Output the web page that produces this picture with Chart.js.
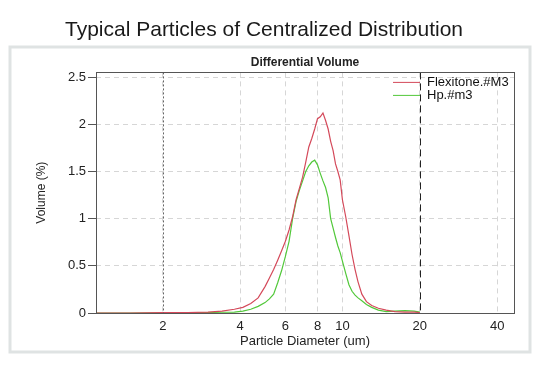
<!DOCTYPE html>
<html>
<head>
<meta charset="utf-8">
<script src="https://cdn.jsdelivr.net/npm/chart.js@4.4.0/dist/chart.umd.min.js"></script>
<style>
  html, body { margin: 0; background: #fff; }
</style>
</head>
<body>
<canvas id="c" width="554" height="375"></canvas>
<script>
// particle diameter (um) and differential volume (%)
const diameters = [1.1, 1.5, 2, 2.5, 3, 3.4, 3.8, 4.1, 4.4, 4.7, 5.0, 5.2, 5.4, 5.6, 5.8, 6.0, 6.2, 6.4, 6.6, 6.8,
  7.0, 7.2, 7.4, 7.6, 7.8, 8.0, 8.2, 8.4, 8.6, 8.8, 9.0, 9.2, 9.4, 9.6, 9.8, 10.0, 10.3, 10.6, 10.9, 11.2,
  11.5, 11.9, 12.4, 13.0, 13.8, 14.8, 16, 17.5, 19, 20];
const flexitone = [0, 0, 0.003, 0.005, 0.01, 0.02, 0.04, 0.06, 0.1, 0.16, 0.28, 0.37, 0.46, 0.56, 0.66, 0.76, 0.88, 1.02, 1.2, 1.32,
  1.44, 1.6, 1.76, 1.85, 1.95, 2.06, 2.08, 2.12, 2.04, 1.95, 1.82, 1.72, 1.58, 1.5, 1.41, 1.2, 1.02, 0.82, 0.62, 0.46,
  0.33, 0.2, 0.12, 0.08, 0.05, 0.03, 0.015, 0.01, 0.01, 0.005];
const hp = [0, 0, 0.002, 0.003, 0.005, 0.008, 0.01, 0.02, 0.04, 0.07, 0.11, 0.15, 0.2, 0.32, 0.45, 0.6, 0.76, 1.0, 1.18, 1.3,
  1.4, 1.5, 1.56, 1.6, 1.62, 1.57, 1.48, 1.4, 1.33, 1.22, 1.0, 0.9, 0.8, 0.71, 0.64, 0.55, 0.42, 0.3, 0.23, 0.19,
  0.16, 0.13, 0.09, 0.06, 0.03, 0.015, 0.02, 0.025, 0.02, 0.01];
const xTicks = [2, 4, 6, 8, 10, 20, 40];
const yTicks = [0, 0.5, 1, 1.5, 2, 2.5];
const cursors = [2, 20];

const FONT = "'Liberation Sans', Arial, sans-serif";
const toPoints = (ys) => diameters.map((d, i) => ({ x: d, y: ys[i] }));

const panel = {
  id: "panel",
  beforeDraw(chart) {
    const ctx = chart.ctx;
    ctx.save();
    ctx.fillStyle = "#fff";
    ctx.fillRect(0, 0, chart.width, chart.height);
    ctx.strokeStyle = "#dfe3e3";
    ctx.lineWidth = 3;
    ctx.strokeRect(10, 47, 520, 305);
    ctx.restore();
  },
  afterDatasetsDraw(chart) {
    const { ctx, chartArea: a, scales } = chart;
    ctx.save();
    // cursor lines at 2 and 20 um
    cursors.forEach((v, i) => {
      const x = Math.round(scales.x.getPixelForValue(v)) + 0.5;
      ctx.strokeStyle = i === 0 ? "#666" : "#222";
      ctx.lineWidth = 1;
      ctx.setLineDash(i === 0 ? [2, 2] : [7, 4]);
      ctx.beginPath();
      ctx.moveTo(x, a.top);
      ctx.lineTo(x, a.bottom);
      ctx.stroke();
    });
    ctx.setLineDash([]);
    ctx.strokeStyle = "#555";
    ctx.strokeRect(Math.round(a.left) + 0.5, Math.round(a.top) + 0.5, Math.round(a.width), Math.round(a.height));
    // legend
    ctx.font = "13px " + FONT;
    ctx.textBaseline = "middle";
    chart.data.datasets.forEach((ds, i) => {
      const y = a.top + 10 + i * 13;
      ctx.strokeStyle = ds.borderColor;
      ctx.beginPath();
      ctx.moveTo(a.right - 121, y);
      ctx.lineTo(a.right - 94, y);
      ctx.stroke();
      ctx.fillStyle = "#111";
      ctx.fillText(ds.label, a.right - 87, y);
    });
    ctx.restore();
  }
};

new Chart(document.getElementById("c"), {
  type: "line",
  data: {
    datasets: [
      { label: "Flexitone.#M3", data: toPoints(flexitone), borderColor: "#d4495a", borderWidth: 1.2, pointRadius: 0, tension: 0, fill: false },
      { label: "Hp.#m3", data: toPoints(hp), borderColor: "#52c83a", borderWidth: 1.2, pointRadius: 0, tension: 0, fill: false },
    ],
  },
  options: {
    responsive: false,
    animation: false,
    layout: { padding: { left: 14, right: 40, top: 0, bottom: 20 } },
    plugins: {
      legend: { display: false },
      tooltip: { enabled: false },
      title: {
        display: true,
        text: "Typical Particles of Centralized Distribution",
        color: "#1a1a1a",
        font: { family: FONT, size: 21, weight: "normal" },
        padding: { top: 18, bottom: 3.8 },
      },
    },
    scales: {
      x: {
        type: "logarithmic",
        min: 1.1,
        max: 46.5,
        afterBuildTicks: (s) => { s.ticks = xTicks.map((v) => ({ value: v })); },
        afterFit: (s) => { s.height = 42; },
        ticks: { callback: (v) => String(v), autoSkip: false, maxRotation: 0, color: "#222", padding: 6, font: { family: FONT, size: 13 } },
        grid: { color: "#d6d6d6", drawTicks: false },
        border: { display: false, dash: [5, 4] },
        title: { display: true, text: "Particle Diameter (um)", color: "#222", padding: { top: 0, bottom: 6 }, font: { family: FONT, size: 13 } },
      },
      x2: {
        type: "linear",
        position: "top",
        afterFit: (s) => { s.height = 25.4; },
        ticks: { display: false },
        grid: { display: false },
        border: { display: false },
        title: { display: true, text: "Differential Volume", color: "#222", padding: { top: 8, bottom: 0 }, font: { family: FONT, size: 12, weight: "bold" } },
      },
      y: {
        min: 0,
        max: 2.55,
        afterBuildTicks: (s) => { s.ticks = yTicks.map((v) => ({ value: v })); },
        afterFit: (s) => { s.width = 82; },
        ticks: { callback: (v) => String(v), color: "#222", padding: 2, font: { family: FONT, size: 13 } },
        grid: { color: "#d6d6d6", drawTicks: true, tickLength: 8, tickColor: "#555", tickBorderDash: [] },
        border: { display: false, dash: [5, 4] },
        title: { display: true, text: "Volume (%)", color: "#222", padding: { top: 20, bottom: 0 }, font: { family: FONT, size: 12 } },
      },
    },
  },
  plugins: [panel],
});
</script>
</body>
</html>
